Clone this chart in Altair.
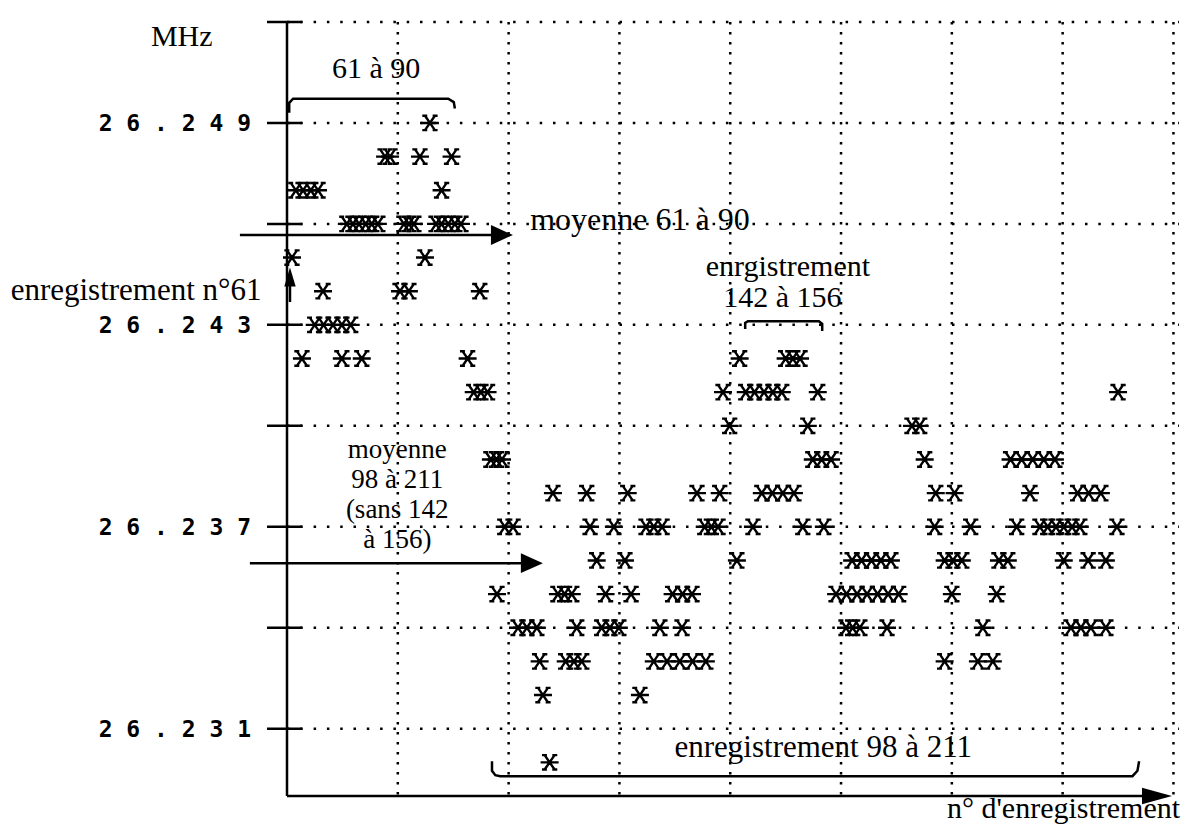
import altair as alt
import pandas as pd

# ---------------- data ----------------
# frequency levels (MHz) on which measurements sit
freq_levels = [26.249, 26.248, 26.247, 26.246, 26.245, 26.244, 26.243, 26.242,
               26.241, 26.240, 26.239, 26.238, 26.237, 26.236, 26.235, 26.234,
               26.233, 26.232, 26.230]
# record numbers (n° d'enregistrement) of the points on each level
rec_26249 = [85.8]
rec_26248 = [77.7, 78.6, 84.0, 89.7]
rec_26247 = [61.6, 62.9, 64.3, 65.6, 87.9]
rec_26246 = [70.8, 71.9, 73.0, 74.2, 75.3, 76.4, 81.1, 82.0, 82.9, 86.9, 87.9, 89.1, 90.3, 91.4]
rec_26245 = [60.9, 84.9]
rec_26244 = [66.5, 80.4, 82.0, 94.8]
rec_26243 = [65.0, 66.6, 68.3, 69.9, 71.5]
rec_26242 = [62.7, 69.9, 73.5, 92.6, 141.7, 150.0, 151.3, 152.6]
rec_26241 = [93.7, 95.0, 96.2, 138.7, 142.8, 144.4, 146.1, 147.7, 149.3, 155.8, 210.0]
rec_26240 = [139.9, 154.0, 172.8, 174.2]
rec_26239 = [96.8, 97.8, 98.8, 154.9, 156.5, 158.2, 175.1, 190.6, 192.6, 194.6, 196.6, 198.6]
rec_26238 = [108.0, 114.1, 121.5, 134.0, 138.1, 145.7, 147.6, 149.5, 151.5, 177.1, 180.5,
             194.1, 202.7, 204.7, 206.9]
rec_26237 = [99.3, 100.8, 114.7, 119.0, 124.8, 126.2, 127.7, 135.4, 136.6, 137.8, 144.1,
             153.1, 156.9, 176.9, 183.4, 191.7, 195.9, 197.3, 198.8, 200.2, 201.7, 203.1, 209.8]
rec_26236 = [115.9, 121.0, 141.2, 162.0, 163.7, 165.5, 167.2, 169.0, 178.7, 180.2, 181.8,
             188.5, 190.1, 200.2, 204.6, 207.8]
rec_26235 = [97.9, 108.9, 110.1, 111.4, 117.5, 122.1, 129.6, 131.4, 133.1, 159.1, 161.0,
             162.9, 164.7, 166.6, 168.5, 170.4, 180.0, 188.1]
rec_26234 = [101.7, 103.3, 105.1, 112.3, 116.8, 118.3, 119.9, 127.3, 131.3, 160.9, 162.1,
             163.4, 168.3, 185.6, 201.5, 203.3, 205.1, 207.8]
rec_26233 = [105.6, 110.3, 111.8, 113.2, 126.2, 128.6, 130.9, 133.2, 135.6, 178.7, 184.7, 187.4]
rec_26232 = [106.2, 123.7]
rec_26230 = [107.4]

rec_lists = [rec_26249, rec_26248, rec_26247, rec_26246, rec_26245, rec_26244, rec_26243,
             rec_26242, rec_26241, rec_26240, rec_26239, rec_26238, rec_26237, rec_26236,
             rec_26235, rec_26234, rec_26233, rec_26232, rec_26230]

x_grid = [80, 100, 120, 140, 160, 180, 200, 220]
y_grid = [26.231, 26.234, 26.237, 26.240, 26.243, 26.246, 26.249, 26.252]
y_label_values = [26.249, 26.243, 26.237, 26.231]
y_tick_labels = ["26.249", "26.243", "26.237", "26.231"]

pts = pd.DataFrame([(r, f) for f, lst in zip(freq_levels, rec_lists) for r in lst],
                   columns=["rec", "freq"])

# ---------------- chart ----------------
W, H = 892, 774
xs = alt.Scale(domain=[60, 221], nice=False, zero=False)
ys = alt.Scale(domain=[26.229, 26.252], nice=False, zero=False)
SERIF = "Liberation Serif"


def X(f):
    return alt.X(f, type="quantitative", scale=xs, axis=None)


def Y(f):
    return alt.Y(f, type="quantitative", scale=ys, axis=None)


layers = []

# dotted grid
layers.append(alt.Chart(pd.DataFrame({"v": y_grid})).mark_rule(
    color="black", strokeWidth=2.5, strokeDash=[2.5, 10.8]).encode(
    y=Y("v"), x=alt.value(0), x2=alt.value(W)))
layers.append(alt.Chart(pd.DataFrame({"v": x_grid})).mark_rule(
    color="black", strokeWidth=2.5, strokeDash=[2.5, 7.5]).encode(
    x=X("v"), y=alt.value(0), y2=alt.value(H)))

# axes
layers.append(alt.Chart(pd.DataFrame({"a": [0]})).mark_rule(color="black", strokeWidth=2.5).encode(
    x=alt.value(0), y=alt.value(0), y2=alt.value(H)))
layers.append(alt.Chart(pd.DataFrame({"a": [0]})).mark_rule(color="black", strokeWidth=2.5).encode(
    y=alt.value(H), x=alt.value(0), x2=alt.value(860)))
layers.append(alt.Chart(pd.DataFrame({"a": [0]})).mark_point(
    shape="M1,0L-1,-0.55L-1,0.55Z", size=900, filled=True, color="black", opacity=1).encode(
    x=alt.value(870), y=alt.value(H)))

# y ticks crossing the axis
layers.append(alt.Chart(pd.DataFrame({"v": y_grid})).mark_rule(color="black", strokeWidth=2.5).encode(
    y=Y("v"), x=alt.value(-20), x2=alt.value(15)))

# y tick labels (typewriter style, spaced)
lab = pd.DataFrame({"v": y_label_values, "t": [" ".join(s) for s in y_tick_labels]})
layers.append(alt.Chart(lab).mark_text(
    align="right", baseline="middle", font="DejaVu Sans Mono", fontWeight="bold",
    fontSize=23, color="black", dy=1).encode(
    y=Y("v"), x=alt.value(-36), text="t:N"))

# data points: asterisk markers
star = ("M-1,0L1,0M-0.55,-0.8L0.55,0.8M-0.55,0.8L0.55,-0.8"
        "M-0.85,-0.8L-0.3,-0.8M0.3,-0.8L0.85,-0.8M-0.85,0.8L-0.3,0.8M0.3,0.8L0.85,0.8")
layers.append(alt.Chart(pts).mark_point(
    shape=star, size=324, filled=False, stroke="black", strokeWidth=2.4, opacity=1).encode(
    x=X("rec"), y=Y("freq")))


def text(t, x, y, align="center", size=31):
    df = pd.DataFrame({"x": [x], "y": [y], "t": [t]})
    return alt.Chart(df).mark_text(
        align=align, baseline="alphabetic", font=SERIF, fontSize=size, color="black").encode(
        x=X("x"), y=Y("y"), text="t:N")


def polyline(xs_, ys_, width=2.5):
    df = pd.DataFrame({"x": xs_, "y": ys_, "o": list(range(len(xs_)))})
    return alt.Chart(df).mark_line(color="black", strokeWidth=width, interpolate="linear").encode(
        x=X("x"), y=Y("y"), order="o:Q")


def head(x, y, shape, size):
    df = pd.DataFrame({"x": [x], "y": [y]})
    return alt.Chart(df).mark_point(shape=shape, size=size, filled=True, color="black",
                                    opacity=1).encode(x=X("x"), y=Y("y"))


RIGHT = "M1,0L-1,-0.9L-1,0.9Z"
UP = "M0,-1L0.6,1L-0.6,1Z"

# annotations
layers.append(text("MHz", 41.0, 26.25128, size=30))
layers.append(text("61 à 90", 76.1, 26.25035, size=30))
layers.append(polyline([60.4, 60.4, 61.1, 89.1, 90.1, 90.3],
                       [26.24930, 26.24960, 26.24972, 26.24972, 26.24962, 26.24943]))
# mean 61-90 arrow
layers.append(polyline([51.5, 97.5], [26.24567, 26.24567]))
layers.append(head(98.8, 26.24567, RIGHT, 484))
layers.append(text("moyenne 61 à 90", 103.9, 26.24582, align="left", size=32))
# record 61 arrow
layers.append(text("enregistrement n°61", 55.4, 26.24374, align="right"))
layers.append(polyline([60.54, 60.54], [26.24368, 26.24420]))
layers.append(head(60.54, 26.24442, UP, 361))
# 142-156
layers.append(text("enrgistrement", 150.4, 26.24445, size=30))
layers.append(text("142 à 156", 149.4, 26.24353, size=30))
layers.append(polyline([142.7, 142.7, 143.2, 156.0, 156.6, 156.6],
                       [26.24288, 26.24306, 26.24311, 26.24311, 26.24303, 26.24282]))
# mean 98-211
layers.append(text("moyenne", 79.9, 26.23904, size=27))
layers.append(text("98 à 211", 79.9, 26.23815, size=27))
layers.append(text("(sans 142", 79.9, 26.23726, size=27))
layers.append(text("à 156)", 79.9, 26.23637, size=27))
layers.append(polyline([53.3, 102.9], [26.23592, 26.23592]))
layers.append(head(104.2, 26.23592, RIGHT, 484))
# bottom bracket 98-211
layers.append(text("enregistrement 98 à 211", 156.8, 26.23016))
layers.append(polyline([97.0, 97.0, 97.6, 98.5, 212.6, 213.5, 213.8],
                       [26.23003, 26.22975, 26.22962, 26.22959, 26.22959, 26.22975, 26.23003]))
# x axis title
layers.append(text("n° d'enregistrement", 221.2, 26.22835, align="right", size=30))

chart = alt.layer(*layers).properties(
    width=W, height=H,
    padding={"left": 279, "top": 14, "right": 10, "bottom": 33},
    autosize=alt.AutoSizeParams(type="none"),
    background="white",
).configure_view(stroke=None)

chart.save("out.html", embed_options={"renderer": "svg", "actions": False})
